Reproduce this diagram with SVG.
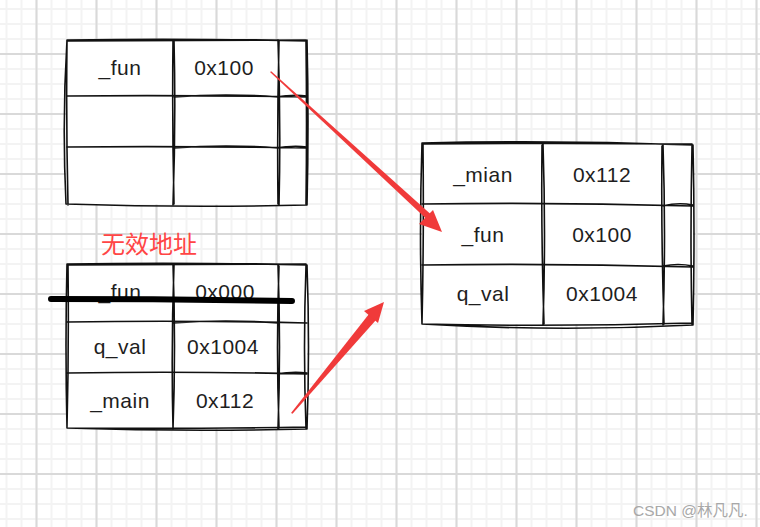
<svg xmlns="http://www.w3.org/2000/svg" width="760" height="527" viewBox="0 0 760 527">
<style>
.t{font-family:"Liberation Sans","DejaVu Sans",sans-serif;font-size:21px;fill:#1e1e1e;text-anchor:middle;letter-spacing:0.5px}
.ln{fill:none;stroke:#111;stroke-width:1.6;stroke-linecap:round;stroke-linejoin:round}
.box{fill:#fff;stroke:none}
.arrow{fill:#f03a3a;stroke:none}
</style>
<defs>
<pattern id="minor" width="15" height="15" patternUnits="userSpaceOnUse" x="5.5" y="8">
<path d="M0,1 H15 M1,0 V15" stroke="#f3f3f3" stroke-width="2" fill="none"/>
</pattern>
<pattern id="major" width="60" height="60" patternUnits="userSpaceOnUse" x="35.5" y="53">
<path d="M0,1 H60 M1,0 V60" stroke="#d9d9d9" stroke-width="2" fill="none"/>
</pattern>
</defs>
<rect width="760" height="527" fill="#fff"/>
<rect width="760" height="527" fill="url(#minor)"/>
<rect width="760" height="527" fill="url(#major)"/>

<g id="table-top">
<path class="box" d="M67,40 L307,41 L307,205 L66,204 Z"/>
<path class="ln" d="M67,40 Q187,38 307,41 M68,41 Q190,40 306,40 M307,40 Q309,122 307,205 M306,41 Q307,124 306,204 M307,205 Q187,208 66,204 M66,204 Q62,122 67,40 M67,41 Q66,120 68,205"/>
<path class="ln" d="M174,40 Q176,122 173,205 M173,41 Q172,120 174,204 M278,40 Q281,122 279,205 M279,41 Q277,124 278,204"/>
<path class="ln" d="M67,96 Q187,95 307,97 M174,97 Q226,93 278,97 M278,97 Q293,94 307,96 M67,147 Q187,146 307,148 M174,148 Q226,144 278,148 M278,148 Q293,145 307,147"/>
<text class="t" x="120" y="75">_fun</text>
<text class="t" x="224" y="75">0x100</text>
</g>

<g id="table-right">
<path class="box" d="M422,143 L693,145 L693,325 L422,324 Z"/>
<path class="ln" d="M422,143 Q557,140 693,145 M423,144 Q560,143 692,144 M693,145 Q695,235 693,325 M692,146 Q690,236 692,324 M693,325 Q557,332 422,324 M422,324 Q556,327 692,323 M422,324 Q419,234 422,143 M423,145 Q424,236 422,323"/>
<path class="ln" d="M543,144 Q546,234 543,325 M542,145 Q541,235 544,324 M663,145 Q666,235 663,325 M662,146 Q661,236 664,324"/>
<path class="ln" d="M422,204 Q557,202 693,206 M663,206 Q678,202 693,205 M422,265 Q557,263 693,267 M663,266 Q678,263 693,266"/>
<text class="t" x="483" y="182">_mian</text>
<text class="t" x="602" y="182">0x112</text>
<text class="t" x="483" y="242">_fun</text>
<text class="t" x="602" y="242">0x100</text>
<text class="t" x="483" y="301">q_val</text>
<text class="t" x="602" y="301">0x1004</text>
</g>

<g id="table-bottom">
<path class="box" d="M67,264 L307,265 L307,429 L67,428 Z"/>
<path class="ln" d="M67,264 Q187,262 307,265 M68,265 Q190,264 306,264 M307,265 Q310,347 307,429 M306,266 Q303,348 306,428 M307,429 Q187,432 67,428 M67,428 Q187,429 306,427 M67,428 Q65,346 67,264 M68,265 Q69,348 67,427"/>
<path class="ln" d="M173,264 Q176,346 173,429 M174,265 Q171,347 173,428 M278,265 Q281,347 278,429 M279,266 Q276,348 279,428"/>
<path class="ln" d="M67,322 Q187,320 307,323 M173,323 Q226,319 278,323 M67,373 Q187,371 307,374 M278,374 Q293,371 307,373"/>
<text class="t" x="120" y="299">_fun</text>
<text class="t" x="225" y="299">0x000</text>
<text class="t" x="120" y="354">q_val</text>
<text class="t" x="223" y="354">0x1004</text>
<text class="t" x="120" y="408">_main</text>
<text class="t" x="225" y="408">0x112</text>
<path d="M51,299 Q170,299 292,301" fill="none" stroke="#000" stroke-width="6" stroke-linecap="round"/>
</g>

<g id="label-invalid">
<text x="101" y="253" font-family="'Noto Sans CJK SC',sans-serif" font-size="24" fill="#ff4545">无效地址</text>
</g>

<g id="connectors">
<path class="arrow" d="M270,72 L271.2,71.2 L430.5,214 L427,219.5 Z"/>
<path class="arrow" d="M442,232 L419,224 L433,210 Z"/>
<path class="arrow" d="M291,413 L292.5,413.8 L376,320 L369,314 Z"/>
<path class="arrow" d="M384,302 L378,323 L364,311 Z"/>
</g>

<text x="633" y="516" font-family="'Liberation Sans','Noto Sans CJK SC',sans-serif" font-size="15.5" fill="#a8a8a8">CSDN @林凡凡.</text>
</svg>
